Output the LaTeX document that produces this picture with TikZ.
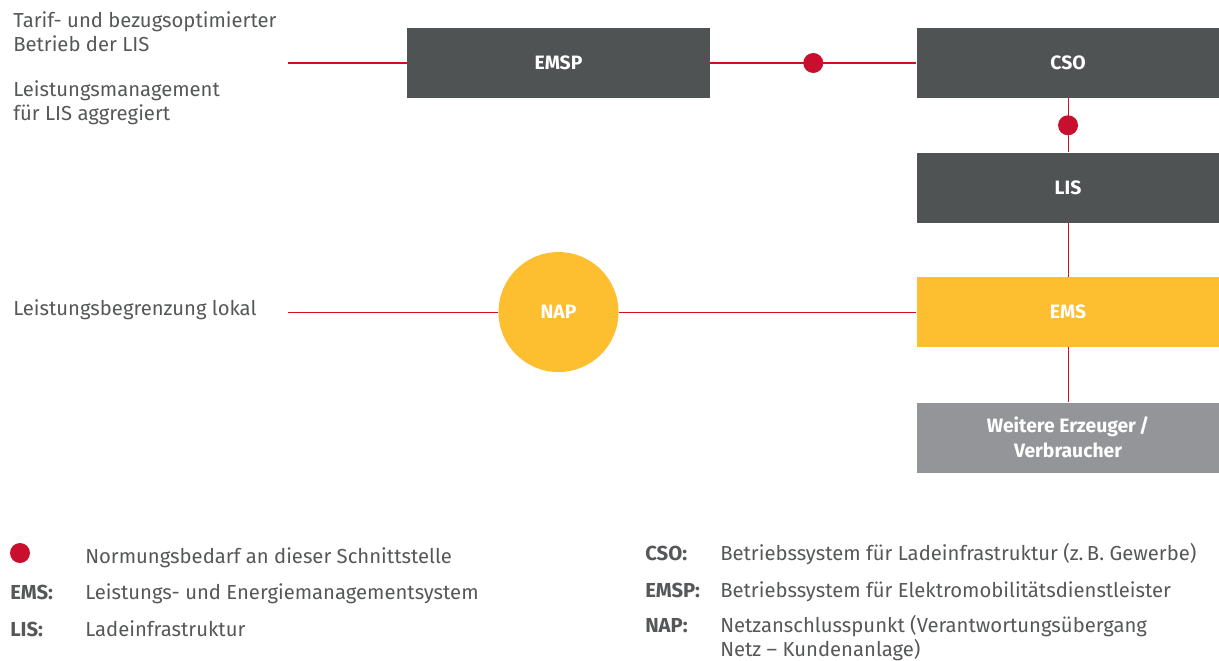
\documentclass[tikz,border=0pt]{standalone}
\usepackage{fontspec}
\setmainfont{Fira Sans}
\usepackage{xcolor}
\usetikzlibrary{positioning}
\definecolor{darkbox}{HTML}{505354}
\definecolor{emsyellow}{HTML}{FDBE2F}
\definecolor{othergray}{HTML}{939598}
\definecolor{linered}{HTML}{D0101B}
\definecolor{dotred}{HTML}{C8102E}
\definecolor{textgray}{HTML}{555758}
\tikzstyle{box} = [rectangle, fill=darkbox, text=white, minimum width=227.25pt, minimum height=52.5pt, inner sep=0pt, align=center, font=\bfseries\fontsize{14.5}{18.75}\selectfont]
\tikzstyle{napcircle} = [circle, fill=emsyellow, text=white, minimum size=90pt, inner sep=0pt, font=\bfseries\fontsize{14.5}{18.75}\selectfont]
\tikzstyle{link} = [draw=linered, line width=0.8pt]
\tikzstyle{dot} = [circle, fill=dotred, minimum size=15pt, inner sep=0pt]
\tikzstyle{note} = [anchor=base west, inner sep=0pt, text=textgray, align=left, font=\fontsize{15.2}{18}\selectfont]
\tikzstyle{key} = [note, font=\bfseries\fontsize{15.2}{18}\selectfont]

\begin{document}
\begin{tikzpicture}[x=0.75pt, y=-0.75pt]
    \useasboundingbox (0,0) rectangle (1219,660);
    \node[box] (emsp) at (558.5,63) {EMSP};
    \node[box, right=154.5pt of emsp] (cso) {CSO};
    \node[box, below=40.5pt of cso] (lis) {LIS};
    \node[box, fill=emsyellow, below=40.5pt of lis] (ems) {EMS};
    \node[box, fill=othergray, below=41.25pt of ems] (other) {Weitere Erzeuger\,/\\Verbraucher};
    \node[napcircle] (nap) at (emsp |- ems) {NAP};
    \coordinate (in1) at (288,63);
    \coordinate (in2) at (in1 |- ems);
    \draw[link] (in1) -- (emsp);
    \draw[link] (emsp) -- node[dot] (d1) {} (cso);
    \draw[link] (cso) -- node[dot] (d2) {} (lis);
    \draw[link] (lis) -- (ems);
    \draw[link] (ems) -- (other);
    \draw[link] (in2) -- (nap);
    \draw[link] (nap) -- (ems);
    % texts on the left
    \node[note] (t1) at (13,52) {Tarif- und bezugsoptimierter\\Betrieb der LIS};
    \node[note] (t2) at (13,120) {Leistungsmanagement\\für LIS aggregiert};
    \node[note] (t3) at (13,315) {Leistungsbegrenzung lokal};
    % legend
    \node[dot] (ld) at (20,553) {};
    \node[note] (l0) at (85,563) {Normungsbedarf an dieser Schnittstelle};
    \node[key] (k1) at (10,599) {EMS:};
    \node[note] (l1) at (85,599) {Leistungs- und Energiemanagementsystem};
    \node[key] (k2) at (10,636) {LIS:};
    \node[note] (l2) at (85,636) {Ladeinfrastruktur};
    \node[key] (k3) at (645,560) {CSO:};
    \node[note] (l3) at (720,560) {Betriebssystem für Ladeinfrastruktur (z.\,B. Gewerbe)};
    \node[key] (k4) at (645,597) {EMSP:};
    \node[note] (l4) at (720,597) {Betriebssystem für Elektromobilitätsdienstleister};
    \node[key] (k5) at (645,632) {NAP:};
    \node[note] (l5) at (720,656) {Netzanschlusspunkt (Verantwortungsübergang\\Netz – Kundenanlage)};
\end{tikzpicture}
\end{document}
